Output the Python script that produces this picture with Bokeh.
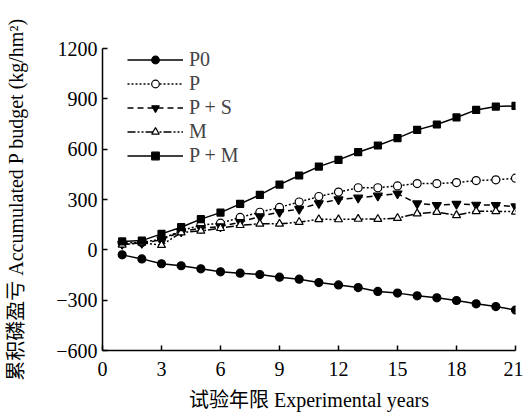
from bokeh.plotting import figure
from bokeh.models import Range1d, FixedTicker, Legend, LegendItem
from bokeh.embed import file_html
from bokeh.resources import INLINE

years = list(range(1, 22))
p0 = [-30, -54, -83, -95, -113, -131, -139, -147, -163, -175, -195, -209, -225, -248, -258, -274, -286, -302, -322, -338, -359]
p_ = [40, 44, 64, 115, 147, 159, 193, 224, 253, 285, 318, 344, 370, 370, 381, 395, 395, 401, 413, 417, 427]
ps = [35, 40, 60, 109, 129, 139, 165, 199, 225, 243, 277, 300, 310, 322, 335, 276, 266, 273, 268, 266, 258]
m_ = [30, 42, 28, 103, 113, 129, 147, 155, 155, 165, 182, 181, 184, 183, 189, 216, 225, 206, 230, 230, 227]
pm = [50, 55, 95, 135, 183, 222, 274, 328, 389, 443, 496, 536, 582, 622, 666, 715, 747, 789, 834, 854, 858]

x_ticks = [0, 3, 6, 9, 12, 15, 18, 21]
y_ticks = [-600, -300, 0, 300, 600, 900, 1200]
y_tick_labels = ["\u2212600", "\u2212300", "0", "300", "600", "900", "1200"]
series_names = ["P0", "P", "P + S", "M", "P + M"]

SERIF = "'Liberation Serif', 'Noto Sans CJK SC'"

p = figure(width=523, height=419, output_backend="svg", toolbar_location=None,
           x_range=Range1d(0, 21), y_range=Range1d(-600, 1200),
           min_border_left=102, min_border_right=8, min_border_top=48, min_border_bottom=69)
p.outline_line_color = None
p.grid.visible = False
p.background_fill_color = "white"

for ax in (p.xaxis[0], p.yaxis[0]):
    ax.axis_line_width = 1.5
    ax.major_tick_line_width = 1.5
    ax.major_tick_in = 5
    ax.major_tick_out = 0
    ax.minor_tick_in = 0
    ax.minor_tick_out = 0
    ax.major_label_text_font = SERIF
    ax.major_label_text_font_size = "20px"
    ax.major_label_text_color = "black"
    ax.axis_label_text_font = SERIF
    ax.axis_label_text_font_size = "20px"
    ax.axis_label_text_font_style = "normal"
    ax.axis_label_text_color = "black"
    ax.axis_line_color = "black"
    ax.major_tick_line_color = "black"

p.xaxis.ticker = FixedTicker(ticks=x_ticks)
p.yaxis.ticker = FixedTicker(ticks=y_ticks)
p.yaxis.major_label_overrides = {t: l for t, l in zip(y_ticks, y_tick_labels)}
p.xaxis.axis_label = "试验年限 Experimental years"
p.yaxis.axis_label = "累积磷盈亏 Accumulated P budget (kg/hm²)"
p.xaxis.major_label_standoff = 11
p.xaxis.axis_label_standoff = 10
p.yaxis.major_label_standoff = 5
p.yaxis.axis_label_standoff = 26

styles = [
    (p0, None, "circle", "black", 8),
    (p_, "2 2", "circle", "white", 8),
    (ps, "6 4", "inverted_triangle", "black", 9),
    (m_, "8 2 2 2 2 2", "triangle", "white", 8),
    (pm, None, "square", "black", 7),
]

items = []
for name, (vals, dash, marker, fill, size) in zip(series_names, styles):
    kw = dict(line_color="black", line_width=1.5)
    if dash:
        kw["line_dash"] = dash
    r_line = p.line(years, vals, **kw)
    r_sc = p.scatter(years, vals, marker=marker, size=size, fill_color=fill,
                     line_color="black", line_width=1.2)
    items.append(LegendItem(label=name, renderers=[r_line, r_sc]))

legend = Legend(items=items, location=(25, 183), padding=0, margin=0, spacing=1,
                glyph_width=56, glyph_height=19, label_height=19, label_standoff=6,
                label_text_font=SERIF, label_text_font_size="20px",
                border_line_color=None, background_fill_alpha=0)
p.add_layout(legend, "center")

open("out.html", "w").write(file_html(p, INLINE))
